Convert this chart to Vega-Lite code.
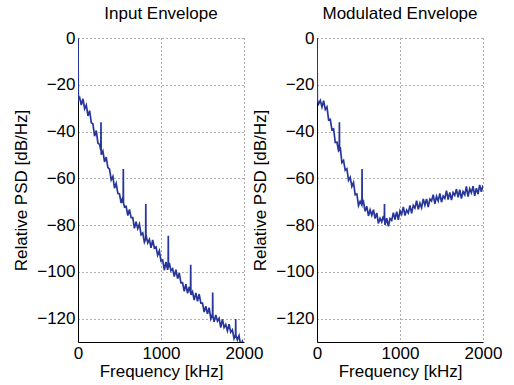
{
  "$schema": "https://vega.github.io/schema/vega-lite/v6.json",
  "background": "white",
  "padding": {"left": 12, "top": 5, "right": 5, "bottom": 5},
  "datasets": {
    "inp": [
      {"f":0,"v":0},{"f":4,"v":-26.5},{"f":20,"v":-25.5},{"f":40,"v":-28.7},{"f":60,"v":-26.0},{"f":80,"v":-30.3},{"f":100,"v":-28.7},{"f":120,"v":-33.3},{"f":140,"v":-31.1},{"f":160,"v":-36.2},{"f":180,"v":-36.8},{"f":200,"v":-42.0},{"f":220,"v":-39.6},{"f":240,"v":-45.0},{"f":260,"v":-45.5},{"f":275,"v":-48},{"f":277,"v":-36},{"f":279,"v":-48},{"f":280,"v":-49.9},{"f":300,"v":-48.4},{"f":320,"v":-53.0},{"f":340,"v":-50.9},{"f":360,"v":-55.4},{"f":380,"v":-56.1},{"f":400,"v":-60.7},{"f":420,"v":-59.2},{"f":440,"v":-64.2},{"f":460,"v":-62.2},{"f":480,"v":-66.4},{"f":500,"v":-66.7},{"f":520,"v":-70.6},{"f":540,"v":-68.2},{"f":544,"v":-70.5},{"f":546,"v":-56},{"f":548,"v":-70.5},{"f":560,"v":-72.2},{"f":580,"v":-72.0},{"f":600,"v":-75.9},{"f":620,"v":-73.3},{"f":640,"v":-76.8},{"f":660,"v":-76.8},{"f":680,"v":-81.4},{"f":700,"v":-78.6},{"f":720,"v":-81.5},{"f":740,"v":-79.6},{"f":760,"v":-84.1},{"f":780,"v":-83.4},{"f":800,"v":-87.3},{"f":815,"v":-86},{"f":817,"v":-71},{"f":819,"v":-86},{"f":820,"v":-84.3},{"f":840,"v":-87.6},{"f":860,"v":-86.1},{"f":880,"v":-89.7},{"f":900,"v":-86.4},{"f":920,"v":-89.8},{"f":940,"v":-89.3},{"f":960,"v":-92.9},{"f":980,"v":-91.0},{"f":1000,"v":-95.4},{"f":1020,"v":-94.9},{"f":1040,"v":-99.3},{"f":1060,"v":-95.8},{"f":1080,"v":-99.1},{"f":1086,"v":-98},{"f":1088,"v":-84.6},{"f":1090,"v":-98},{"f":1100,"v":-96.2},{"f":1120,"v":-99.5},{"f":1140,"v":-98.7},{"f":1160,"v":-102.0},{"f":1180,"v":-99.1},{"f":1200,"v":-102.9},{"f":1220,"v":-100.6},{"f":1240,"v":-104.7},{"f":1260,"v":-104.6},{"f":1280,"v":-108.3},{"f":1300,"v":-105.3},{"f":1320,"v":-109.2},{"f":1340,"v":-106.4},{"f":1356,"v":-109},{"f":1358,"v":-97},{"f":1360,"v":-109.8},{"f":1380,"v":-108.5},{"f":1400,"v":-112.1},{"f":1420,"v":-109.0},{"f":1440,"v":-112.6},{"f":1460,"v":-109.5},{"f":1480,"v":-113.4},{"f":1500,"v":-113.4},{"f":1520,"v":-117.2},{"f":1540,"v":-114.7},{"f":1560,"v":-118.0},{"f":1580,"v":-115.3},{"f":1600,"v":-120.0},{"f":1620,"v":-118.1},{"f":1621,"v":-119},{"f":1623,"v":-108.8},{"f":1625,"v":-119},{"f":1640,"v":-121.4},{"f":1660,"v":-118.4},{"f":1680,"v":-121.1},{"f":1700,"v":-119.9},{"f":1720,"v":-123.8},{"f":1740,"v":-120.2},{"f":1760,"v":-123.8},{"f":1780,"v":-122.5},{"f":1800,"v":-125.2},{"f":1820,"v":-122.4},{"f":1840,"v":-125.8},{"f":1860,"v":-124.8},{"f":1880,"v":-128.5},{"f":1898,"v":-127},{"f":1900,"v":-120.2},{"f":1902,"v":-127},{"f":1920,"v":-129.1},{"f":1940,"v":-127.3},{"f":1960,"v":-131.5},{"f":1980,"v":-129.7},{"f":2000,"v":-132.2}
    ],
    "mod": [
      {"f":0,"v":0},{"f":4,"v":-26.5},{"f":20,"v":-28.2},{"f":40,"v":-26.7},{"f":60,"v":-29.5},{"f":80,"v":-26.8},{"f":100,"v":-30.6},{"f":120,"v":-29.5},{"f":140,"v":-35.0},{"f":160,"v":-34.8},{"f":180,"v":-39.3},{"f":200,"v":-38.9},{"f":220,"v":-44.7},{"f":240,"v":-44.5},{"f":260,"v":-48.3},{"f":268,"v":-48},{"f":270,"v":-36},{"f":272,"v":-48},{"f":280,"v":-46.7},{"f":300,"v":-53.3},{"f":320,"v":-52.4},{"f":340,"v":-56.6},{"f":360,"v":-55.9},{"f":380,"v":-60.9},{"f":400,"v":-59.6},{"f":420,"v":-63.5},{"f":440,"v":-61.8},{"f":460,"v":-67.0},{"f":480,"v":-66.7},{"f":500,"v":-71.7},{"f":520,"v":-69.9},{"f":540,"v":-71.4},{"f":541,"v":-71},{"f":543,"v":-56},{"f":545,"v":-71},{"f":560,"v":-70.0},{"f":580,"v":-74.1},{"f":600,"v":-72.0},{"f":620,"v":-76.1},{"f":640,"v":-73.5},{"f":660,"v":-75.8},{"f":680,"v":-73.4},{"f":700,"v":-77.2},{"f":720,"v":-74.8},{"f":740,"v":-79.3},{"f":760,"v":-77.1},{"f":780,"v":-78.7},{"f":800,"v":-76.1},{"f":811,"v":-78},{"f":813,"v":-71},{"f":815,"v":-78},{"f":820,"v":-79.9},{"f":840,"v":-77.1},{"f":860,"v":-80.5},{"f":880,"v":-77.2},{"f":900,"v":-78.0},{"f":920,"v":-74.7},{"f":940,"v":-77.6},{"f":960,"v":-74.3},{"f":980,"v":-77.8},{"f":1000,"v":-73.9},{"f":1020,"v":-75.4},{"f":1040,"v":-72.2},{"f":1060,"v":-75.9},{"f":1080,"v":-73.6},{"f":1100,"v":-74.8},{"f":1120,"v":-71.6},{"f":1140,"v":-75.0},{"f":1160,"v":-71.6},{"f":1180,"v":-72.7},{"f":1200,"v":-69.6},{"f":1220,"v":-73.3},{"f":1240,"v":-70.6},{"f":1260,"v":-72.6},{"f":1280,"v":-68.8},{"f":1300,"v":-71.5},{"f":1320,"v":-68.8},{"f":1340,"v":-72.3},{"f":1360,"v":-68.9},{"f":1380,"v":-69.7},{"f":1400,"v":-67.0},{"f":1420,"v":-70.9},{"f":1440,"v":-67.7},{"f":1460,"v":-69.7},{"f":1480,"v":-66.5},{"f":1500,"v":-70.2},{"f":1520,"v":-67.6},{"f":1540,"v":-68.6},{"f":1560,"v":-65.3},{"f":1580,"v":-69.1},{"f":1600,"v":-66.0},{"f":1620,"v":-69.3},{"f":1640,"v":-66.1},{"f":1660,"v":-67.3},{"f":1680,"v":-64.6},{"f":1700,"v":-68.1},{"f":1720,"v":-64.9},{"f":1740,"v":-68.7},{"f":1760,"v":-65.7},{"f":1780,"v":-67.0},{"f":1800,"v":-63.5},{"f":1820,"v":-67.8},{"f":1840,"v":-64.4},{"f":1860,"v":-66.2},{"f":1880,"v":-63.4},{"f":1900,"v":-67.5},{"f":1920,"v":-64.2},{"f":1940,"v":-66.7},{"f":1960,"v":-62.8},{"f":1980,"v":-65.8},{"f":2000,"v":-63.0}
    ]
  },
  "hconcat": [
    {
      "title": "Input Envelope",
      "data": {"name": "inp"},
      "width": 166,
      "height": 304,
      "mark": {"type": "line", "color": "#28369a", "strokeWidth": 1.7, "clip": true},
      "encoding": {
        "x": {"field": "f", "type": "quantitative", "title": "Frequency [kHz]", "scale": {"domain": [0, 2000], "nice": false}, "axis": {"values": [0, 1000, 2000], "format": "d"}},
        "y": {"field": "v", "type": "quantitative", "title": "Relative PSD [dB/Hz]", "scale": {"domain": [-130, 0], "nice": false}, "axis": {"values": [-120, -100, -80, -60, -40, -20, 0], "format": "d"}}
      }
    },
    {
      "title": "Modulated Envelope",
      "data": {"name": "mod"},
      "width": 166,
      "height": 304,
      "mark": {"type": "line", "color": "#28369a", "strokeWidth": 1.7, "clip": true},
      "encoding": {
        "x": {"field": "f", "type": "quantitative", "title": "Frequency [kHz]", "scale": {"domain": [0, 2000], "nice": false}, "axis": {"values": [0, 1000, 2000], "format": "d"}},
        "y": {"field": "v", "type": "quantitative", "title": "Relative PSD [dB/Hz]", "scale": {"domain": [-130, 0], "nice": false}, "axis": {"values": [-120, -100, -80, -60, -40, -20, 0], "format": "d"}}
      }
    }
  ],
  "spacing": 73,
  "bounds": "flush",
  "config": {
    "font": "Liberation Sans",
    "view": {"stroke": null},
    "title": {"fontSize": 17, "fontWeight": "normal", "color": "black", "offset": 6, "anchor": "middle"},
    "axis": {
      "labelFontSize": 17, "titleFontSize": 17, "titleFontWeight": "normal",
      "labelColor": "black", "titleColor": "black",
      "domainColor": "black", "domainWidth": 1,
      "ticks": false, "labelPadding": 3, "titlePadding": 2,
      "grid": true, "gridColor": "#333333", "gridDash": [1, 3], "gridOpacity": 0.8, "gridWidth": 1,
      "labelFlush": false, "labelOverlap": false
    },
    "axisY": {"titlePadding": 6}
  }
}
